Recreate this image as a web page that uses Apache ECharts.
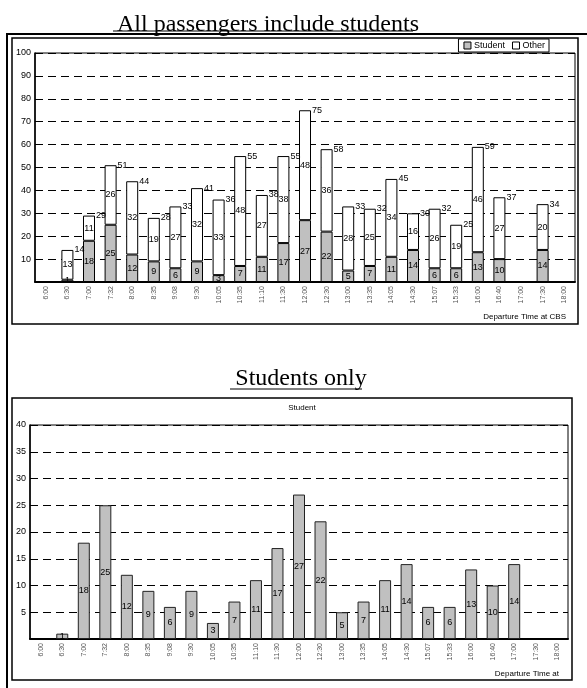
<!DOCTYPE html>
<html><head><meta charset="utf-8">
<script src="https://cdn.jsdelivr.net/npm/echarts/dist/echarts.min.js"></script>
<style>html,body{margin:0;padding:0;background:#fff}#c{width:587px;height:688px}</style>
</head><body><div id="c"></div>
<script>
const categories = ['6:00','6:30','7:00','7:32','8:00','8:35','9:08','9:30','10:05','10:35','11:10','11:30','12:00','12:30','13:00','13:35','14:05','14:30','15:07','15:33','16:00','16:40','17:00','17:30','18:00'];
const studentAll = [null,1,18,25,12,9,6,9,3,7,11,17,27,22,5,7,11,14,6,6,13,10,null,14,null];
const otherAll   = [null,13,11,26,32,19,27,32,33,48,27,38,48,36,28,25,34,16,26,19,46,27,null,20,null];
const studentOnly = [null,1,18,25,12,9,6,9,3,7,11,17,27,22,5,7,11,14,6,6,13,10,14,null,null];
const topAxis = {min:0, max:100, interval:10};
const bottomAxis = {min:0, max:40, interval:5};
const totals = studentAll.map((s,i)=> (s==null||otherAll[i]==null)?null:s+otherAll[i]);

const SANS = 'Liberation Sans, Arial, sans-serif';
const SERIF = 'Liberation Serif, Times New Roman, serif';
const chart = echarts.init(document.getElementById('c'), null, {renderer:'canvas'});

function yAx(idx, cfg){
  return {gridIndex: idx, type:'value', min:cfg.min, max:cfg.max, interval:cfg.interval,
    axisLine:{show:true, lineStyle:{color:'#000', width:1.5}},
    axisTick:{show:false},
    axisLabel:{fontSize:9, color:'#000', fontFamily:SANS, margin:4, formatter:v=> v===0?'':String(v)},
    splitLine:{show:true, lineStyle:{color:'#000', width:1, type:[8,5]}}};
}
function xAx(idx){
  return {gridIndex: idx, type:'category', data:categories, boundaryGap:true,
    axisLine:{show:true, lineStyle:{color:'#000', width:2}},
    axisTick:{show:false},
    axisLabel:{rotate:90, interval:0, fontSize:7, color:'#555', fontFamily:SANS, margin:4}};
}
const lbl = {show:true, position:'inside', fontSize:9, color:'#000', fontFamily:SANS};

chart.setOption({
  animation:false,
  backgroundColor:'#fff',
  title:[
    {text:'All passengers include students', left:263, top:8, textAlign:'center',
     textStyle:{fontFamily:SERIF, fontSize:24, fontWeight:'normal', color:'#000'}},
    {text:'Students only', left:296, top:362, textAlign:'center',
     textStyle:{fontFamily:SERIF, fontSize:24, fontWeight:'normal', color:'#000'}},
    {text:'Student', left:297, top:399, textAlign:'center',
     textStyle:{fontFamily:SANS, fontSize:8, fontWeight:'normal', color:'#000'}},
    {text:'Departure Time at CBS', right:16, top:308,
     textStyle:{fontFamily:SANS, fontSize:8, fontWeight:'normal', color:'#000'}},
    {text:'Departure Time at', right:23, top:665,
     textStyle:{fontFamily:SANS, fontSize:8, fontWeight:'normal', color:'#000'}}
  ],
  legend:{
    data:[
      {name:'Student', itemStyle:{color:'#c0c0c0', borderColor:'#000', borderWidth:1}},
      {name:'Other', itemStyle:{color:'#fff', borderColor:'#000', borderWidth:1}}
    ],
    right:38, top:39, orient:'horizontal',
    icon:'rect', itemWidth:7, itemHeight:7, itemGap:7, padding:[2,4,2,5],
    borderColor:'#000', borderWidth:1, backgroundColor:'#fff',
    textStyle:{fontSize:9, color:'#000', fontFamily:SANS, padding:[0,0,0,-2]}},
  grid:[
    {left:35, top:53, width:540, height:229, show:true, borderColor:'#000', borderWidth:1, backgroundColor:'transparent'},
    {left:30, top:425, width:538, height:214, show:true, borderColor:'#000', borderWidth:1, backgroundColor:'transparent'}
  ],
  xAxis:[xAx(0), xAx(1)],
  yAxis:[yAx(0, topAxis), yAx(1, bottomAxis)],
  series:[
    {name:'Student', type:'bar', xAxisIndex:0, yAxisIndex:0, stack:'all', data:studentAll, barWidth:12, barGap:'-100%',
     itemStyle:{color:'#c0c0c0', borderColor:'#000', borderWidth:1}, label:lbl},
    {name:'Other', type:'bar', xAxisIndex:0, yAxisIndex:0, stack:'all', data:otherAll, barWidth:12,
     itemStyle:{color:'#fff', borderColor:'#000', borderWidth:1}, label:lbl},
    {name:'Total', type:'bar', xAxisIndex:0, yAxisIndex:0, data:totals, barWidth:12, barGap:'-100%', silent:true,
     itemStyle:{color:'rgba(0,0,0,0)', borderWidth:0},
     label:{show:true, position:['100%',0], align:'left', verticalAlign:'middle', offset:[1,0], fontSize:9, color:'#000', fontFamily:SANS}},
    {name:'StudentOnly', type:'bar', xAxisIndex:1, yAxisIndex:1, data:studentOnly, barWidth:12,
     itemStyle:{color:'#c0c0c0', borderColor:'#222', borderWidth:1}, label:lbl}
  ],
  graphic:[
    {type:'polyline', shape:{points:[[7,690],[7,34],[590,34]]}, style:{stroke:'#000', lineWidth:2, fill:null}, silent:true},
    {type:'rect', shape:{x:12, y:38, width:566, height:286}, style:{stroke:'#000', lineWidth:1.5, fill:null}, silent:true},
    {type:'rect', shape:{x:12, y:398, width:560, height:282}, style:{stroke:'#000', lineWidth:1.5, fill:null}, silent:true},
    {type:'line', shape:{x1:113, y1:31, x2:413, y2:31}, style:{stroke:'#000', lineWidth:1}, silent:true},
    {type:'line', shape:{x1:230, y1:389, x2:362, y2:389}, style:{stroke:'#000', lineWidth:1}, silent:true}
  ]
});
</script></body></html>
